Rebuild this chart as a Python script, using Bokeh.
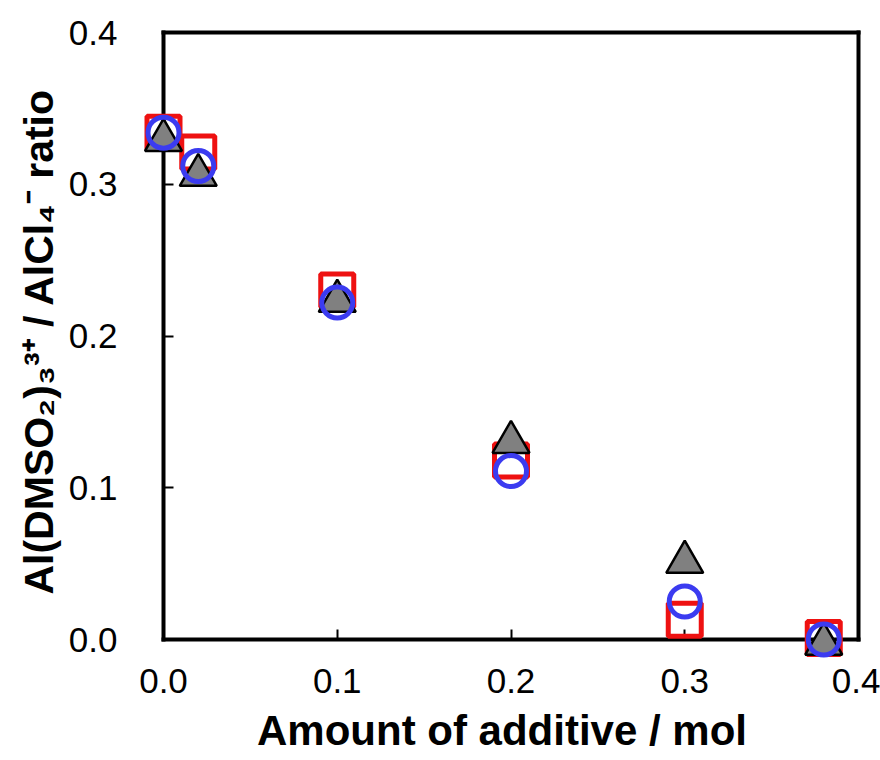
from bokeh.plotting import figure
from bokeh.models import LinearAxis, FixedTicker, Range1d, PrintfTickFormatter
from bokeh.embed import file_html
from bokeh.resources import INLINE

# ---- data ----
amount = [0.0, 0.02, 0.10, 0.20, 0.30, 0.38]
ratio_square = [0.334, 0.321, 0.230, 0.118, 0.013, 0.001]
ratio_triangle = [0.329, 0.306, 0.223, 0.130, 0.051, -0.003]
ratio_circle = [0.334, 0.312, 0.222, 0.111, 0.025, 0.000]
tick_values = [0.0, 0.1, 0.2, 0.3, 0.4]
axis_min, axis_max = 0.0, 0.4

x_title = "Amount of additive / mol"
y_title = "Al(DMSO\u2082)\u2083\u00b3\u207a / AlCl\u2084\u207b ratio"

# ---- layout (pixels) ----
W, H = 880, 760
left, right_b, top, bottom_b = 135, 12, 26, 104
fw, fh = W - left - right_b, H - top - bottom_b
box_left, box_right = 163, 858      # pixel of x=0, x=0.4
box_top, box_bottom = 32, 639       # pixel of y=0.4, y=0
sx = (box_right - box_left) / (axis_max - axis_min)
sy = (box_bottom - box_top) / (axis_max - axis_min)
x0 = axis_min - (box_left - left) / sx
y0 = axis_min - (top + fh - box_bottom) / sy

p = figure(width=W, height=H, output_backend="svg", toolbar_location=None,
           x_range=Range1d(x0, x0 + fw / sx), y_range=Range1d(y0, y0 + fh / sy),
           x_axis_location=None, y_axis_location=None,
           min_border_left=left, min_border_right=right_b,
           min_border_top=top, min_border_bottom=bottom_b,
           background_fill_color="white", border_fill_color="white",
           outline_line_color=None)
p.grid.visible = False

FONT = "Liberation Sans"

def line_axis(ticks, loc):
    # draws the box edge and inward ticks at a fixed data location (no labels)
    return LinearAxis(fixed_location=loc, bounds=(axis_min, axis_max),
                      ticker=FixedTicker(ticks=ticks),
                      axis_line_color="black", axis_line_width=4, axis_line_cap="square",
                      major_tick_in=10, major_tick_out=0, major_tick_line_width=2,
                      major_tick_line_color="black", minor_tick_line_color=None,
                      major_label_text_color=None)

def label_axis(title, standoff, title_standoff, title_size):
    # tick labels and title only, at the frame edge
    return LinearAxis(ticker=FixedTicker(ticks=tick_values),
                      formatter=PrintfTickFormatter(format="%.1f"),
                      axis_line_color=None, major_tick_line_color=None,
                      minor_tick_line_color=None, major_tick_in=0, major_tick_out=0,
                      major_label_standoff=standoff,
                      major_label_text_font=FONT, major_label_text_font_size="35px",
                      major_label_text_color="black",
                      axis_label=title, axis_label_standoff=title_standoff,
                      axis_label_text_font=FONT, axis_label_text_font_size=title_size,
                      axis_label_text_font_style="bold", axis_label_text_color="black")

p.add_layout(label_axis(x_title, 12, 11, "42px"), "below")
p.add_layout(label_axis(y_title, 18, 4, "41px"), "left")

for ax_loc, side, ticks in ((axis_min, "below", tick_values), (axis_min, "left", tick_values),
                            (axis_max, "above", []), (axis_max, "right", [])):
    p.add_layout(line_axis(ticks, ax_loc), side)

r1 = p.scatter(amount, ratio_square, marker="square", size=33, fill_color=None,
               line_color="#ee1111", line_width=5)
r2 = p.scatter(amount, ratio_triangle, marker="triangle", size=37, fill_color="#808080",
               line_color="black", line_width=2.5)
r3 = p.scatter(amount, ratio_circle, marker="circle", size=31, fill_color=None,
               line_color="#3b3bf0", line_width=5)
for r in (r1, r2, r3):
    r.level = "annotation"

open("out.html", "w").write(file_html(p, INLINE))
